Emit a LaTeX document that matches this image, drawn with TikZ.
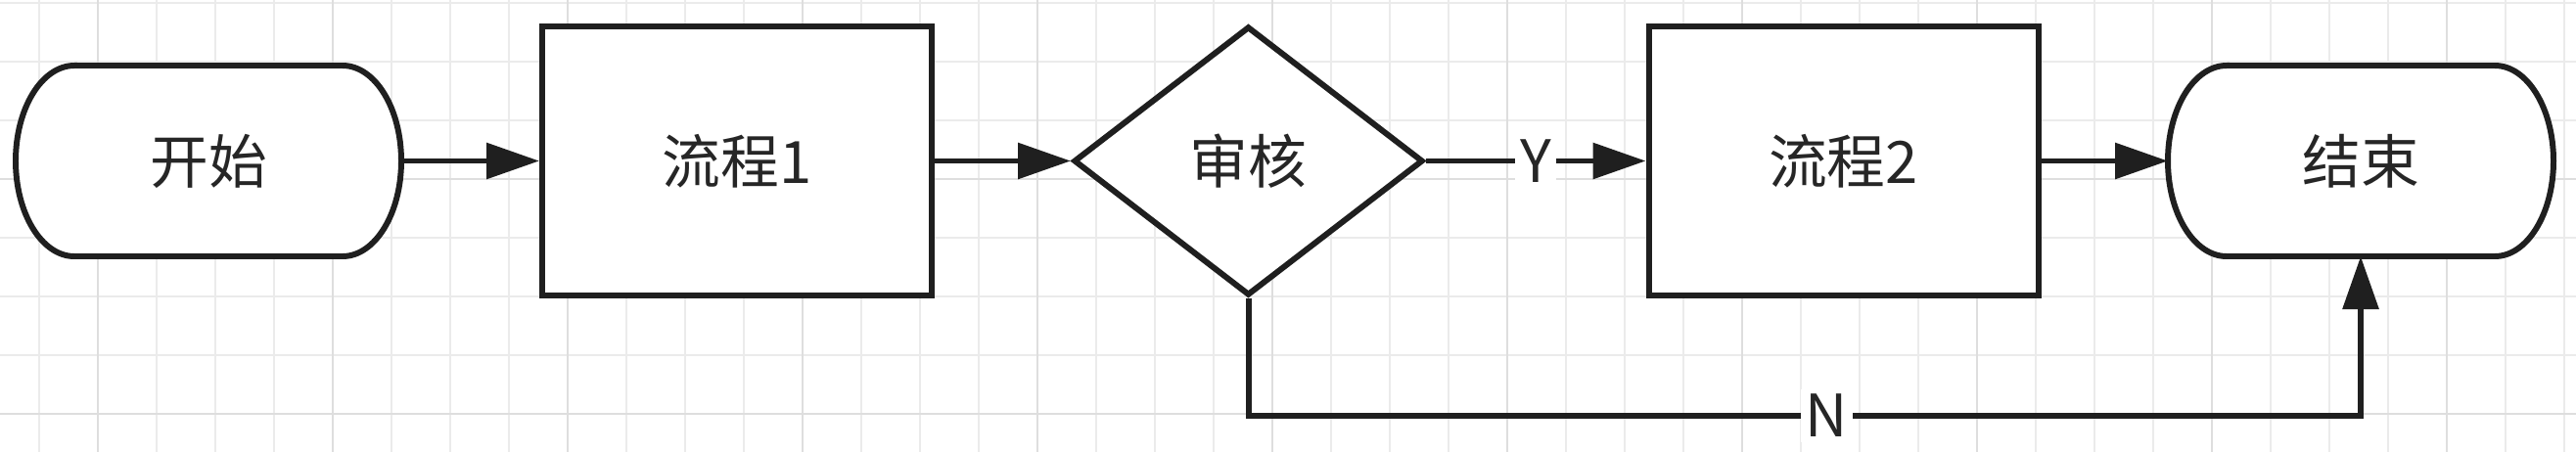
\documentclass[tikz,border=0pt]{standalone}
\usepackage{fontspec}
\newfontfamily\cjk{Noto Sans CJK SC}
\usetikzlibrary{arrows.meta,shapes.geometric}
\pgfdeclarelayer{grid}
\pgfdeclarelayer{back}
\pgfsetlayers{grid,back,main}

\begin{document}
\begin{tikzpicture}[every node/.style={font=\cjk\fontsize{17}{20}\selectfont, text=black!85},
	>={Triangle[length=5.4mm, width=3.6mm]},
	box/.style={draw=black!88, line width=1.7pt, fill=white, minimum width=3.98cm, minimum height=2.75cm},
	decision/.style={diamond, draw=black!88, line width=1.7pt, fill=white, minimum width=3.57cm, minimum height=2.75cm, inner sep=0pt},
	terminal/.style={minimum width=3.94cm, minimum height=1.95cm, outer sep=0pt},
	flow/.style={->, draw=black!88, line width=1.7pt},
	lbl/.style={fill=white, inner sep=1.5pt}]
	\useasboundingbox (0,0) rectangle (26.32,-4.62);
	% grid paper
	\begin{pgfonlayer}{grid}
		\fill[white] (0,0) rectangle (26.32,-4.62);
		\foreach \i in {0,...,43} {\draw[black!8, line width=0.8pt] (0.4+0.6*\i,0) -- (0.4+0.6*\i,-4.62);}
		\foreach \j in {0,...,7} {\draw[black!8, line width=0.8pt] (0,-0.03-0.6*\j) -- (26.32,-0.03-0.6*\j);}
		\foreach \k in {0,...,10} {\draw[black!13, line width=0.8pt] (1.0+2.4*\k,0) -- (1.0+2.4*\k,-4.62);}
		\foreach \y in {-1.83,-4.23} {\draw[black!13, line width=0.8pt] (0,\y) -- (26.32,\y);}
	\end{pgfonlayer}
	% steps
	\node[terminal] (start) at (2.13,-1.645) {开始};
	\node[box] (proc1) at (7.53,-1.645) {流程1};
	\node[decision] (audit) at (12.755,-1.645) {审核};
	\node[box] (proc2) at (18.835,-1.645) {流程2};
	\node[terminal] (end) at (24.12,-1.645) {结束};
	% terminal outlines
	\begin{pgfonlayer}{back}
		\foreach \t in {start,end} {\draw[draw=black!88, line width=1.7pt, fill=white] ([xshift=0.6cm]\t.north west) -- ([xshift=-0.6cm]\t.north east) arc[start angle=90, end angle=-90, x radius=0.6cm, y radius=0.975cm] -- ([xshift=0.6cm]\t.south west) arc[start angle=270, end angle=90, x radius=0.6cm, y radius=0.975cm] -- cycle;}
	\end{pgfonlayer}
	% connectors
	\draw[flow] (start.east) -- (proc1.west);
	\draw[flow] (proc1.east) -- (audit.west);
	\draw[flow] (audit.east) -- node[lbl] {Y} (proc2.west);
	\draw[flow] (proc2.east) -- (end.west);
	\coordinate (nturn) at ([yshift=-1.2cm]audit.south);
	\draw[flow] (audit.south) -- (nturn) -| node[lbl, pos=0.26] {N} (end.south);
\end{tikzpicture}
\end{document}
